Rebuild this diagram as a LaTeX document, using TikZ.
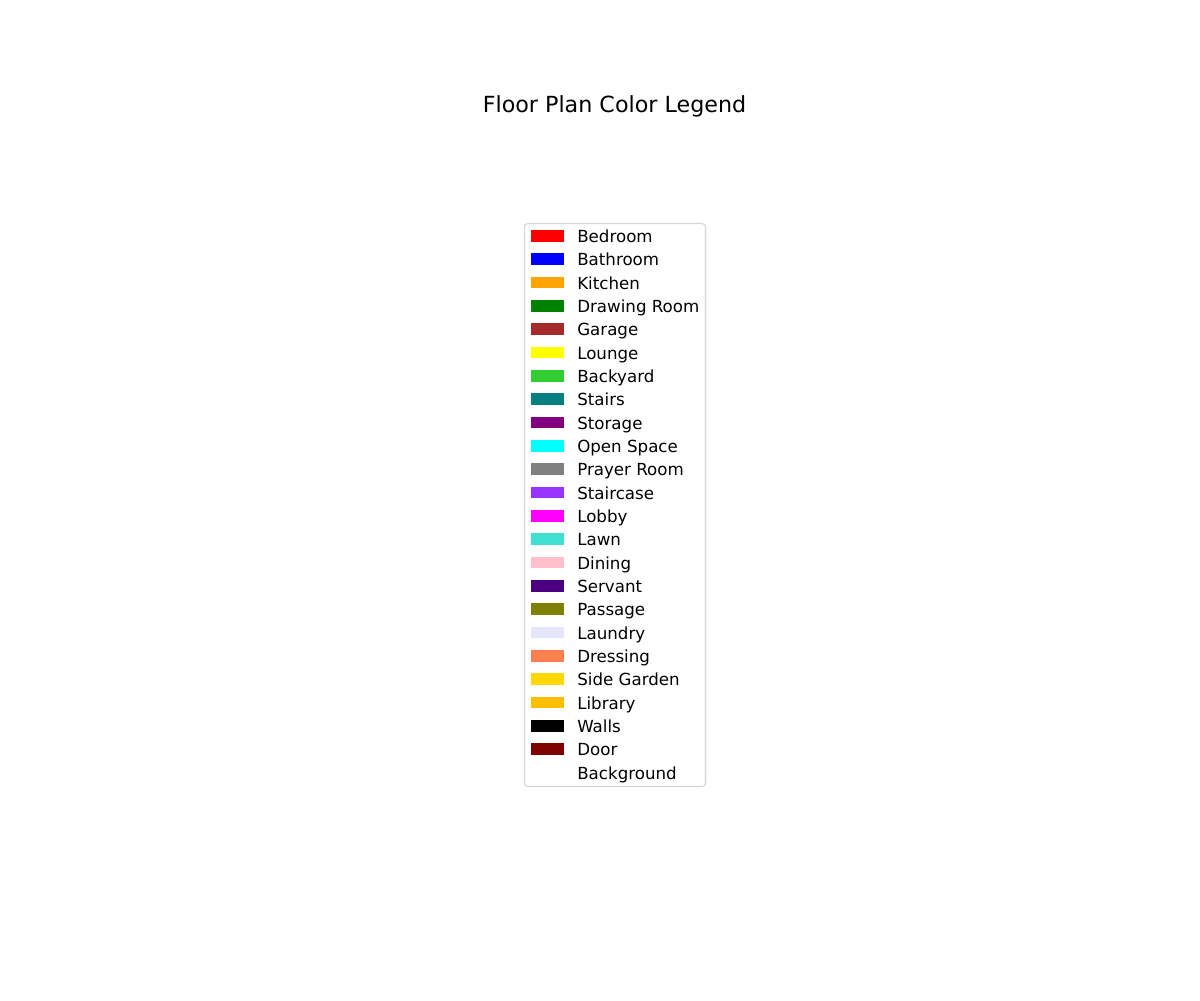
\documentclass[tikz,border=0pt]{standalone}
\usepackage{fontspec}
\setmainfont{DejaVu Sans}
\definecolor{cBedroom}{HTML}{FF0000}
\definecolor{cBathroom}{HTML}{0000FF}
\definecolor{cKitchen}{HTML}{FFA500}
\definecolor{cDrawing}{HTML}{008000}
\definecolor{cGarage}{HTML}{A52A2A}
\definecolor{cLounge}{HTML}{FFFF00}
\definecolor{cBackyard}{HTML}{32CD32}
\definecolor{cStairs}{HTML}{008080}
\definecolor{cStorage}{HTML}{800080}
\definecolor{cOpen}{HTML}{00FFFF}
\definecolor{cPrayer}{HTML}{808080}
\definecolor{cStaircase}{HTML}{9933FF}
\definecolor{cLobby}{HTML}{FF00FF}
\definecolor{cLawn}{HTML}{40E0D0}
\definecolor{cDining}{HTML}{FFC0CB}
\definecolor{cServant}{HTML}{4B0082}
\definecolor{cPassage}{HTML}{808000}
\definecolor{cLaundry}{HTML}{E6E6FA}
\definecolor{cDressing}{HTML}{FF7F50}
\definecolor{cSideGarden}{HTML}{FFD700}
\definecolor{cLibrary}{HTML}{FFBF00}
\definecolor{cWalls}{HTML}{000000}
\definecolor{cDoor}{HTML}{800000}
\definecolor{cBackground}{HTML}{FFFFFF}
\definecolor{frameGray}{HTML}{D6D6D6}
\begin{document}
\begin{tikzpicture}[x=0.72pt,y=-0.72pt,
  legendframe/.style={draw=frameGray,line width=0.8pt,rounded corners=2.5pt,fill=white},
  entrytext/.style={anchor=base west,inner sep=0pt,font=\fontsize{12}{14}\selectfont},
  titletext/.style={anchor=base,inner sep=0pt,font=\fontsize{16}{19}\selectfont}]
\useasboundingbox (0,0) rectangle (1200,1000);
\fill[white] (0,0) rectangle (1200,1000);
\node[titletext] (title) at (614.5,112.7) {Floor Plan Color Legend};
\draw[legendframe] (524.5,223.5) rectangle (705.5,786.5);
\foreach \i/\name/\col in {
  0/Bedroom/cBedroom,
  1/Bathroom/cBathroom,
  2/Kitchen/cKitchen,
  3/Drawing Room/cDrawing,
  4/Garage/cGarage,
  5/Lounge/cLounge,
  6/Backyard/cBackyard,
  7/Stairs/cStairs,
  8/Storage/cStorage,
  9/Open Space/cOpen,
  10/Prayer Room/cPrayer,
  11/Staircase/cStaircase,
  12/Lobby/cLobby,
  13/Lawn/cLawn,
  14/Dining/cDining,
  15/Servant/cServant,
  16/Passage/cPassage,
  17/Laundry/cLaundry,
  18/Dressing/cDressing,
  19/Side Garden/cSideGarden,
  20/Library/cLibrary,
  21/Walls/cWalls,
  22/Door/cDoor,
  23/Background/cBackground}{
  \pgfmathsetmacro{\yc}{235.8+23.33*\i}
  \fill[\col] (531,\yc-5.8) rectangle (564,\yc+5.8);
  \node[entrytext] (label\i) at (577,\yc+6.7) {\name};
}
\end{tikzpicture}
\end{document}
